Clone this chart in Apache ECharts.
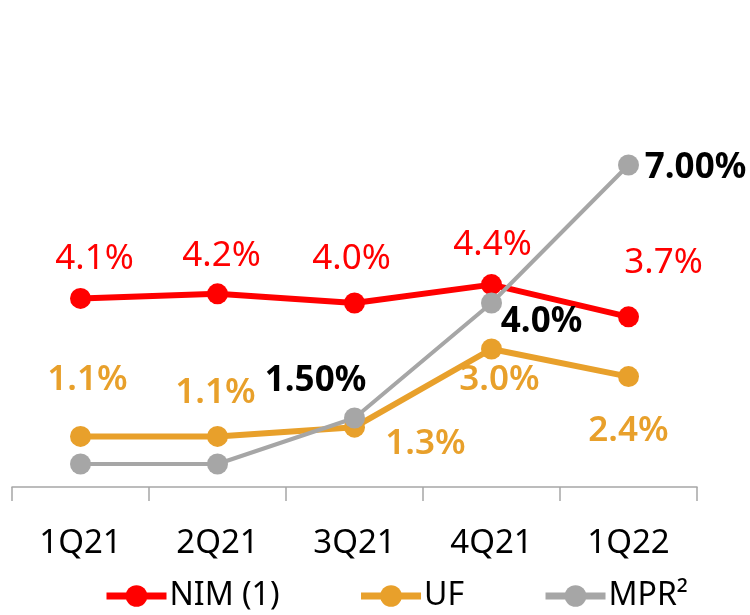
<!DOCTYPE html>
<html>
<head>
<meta charset="utf-8">
<script src="https://cdn.jsdelivr.net/npm/echarts@6/dist/echarts.min.js"></script>
<style>
  html, body { margin: 0; padding: 0; background: #fff; }
  #chart { width: 750px; height: 615px; }
</style>
</head>
<body>
<div id="chart"></div>
<script>
const categories = ['1Q21', '2Q21', '3Q21', '4Q21', '1Q22']
const nimValues = [4.1, 4.2, 4.0, 4.4, 3.7]
const ufValues = [1.1, 1.1, 1.3, 3.0, 2.4]
const mprValues = [0.5, 0.5, 1.5, 4.0, 7.0]
const mprLabels = ['', '', '1.50%', '4.0%', '7.00%']

// label offsets (px) from each point, kept apart from the values
const nimOffsets = [[14, -39], [4, -38], [-3, -44], [1, -40], [35, -54]]
const ufOffsets = [[7, -56], [-2, -43], [71, 17], [8, 31], [0, 54]]
const mprOffsets = [[0, 0], [0, 0], [-39, -37], [50, 19], [67, 3]]

const FONT = 'Noto Sans'
const RED = '#FF0000'
const ORANGE = '#E8A02B'
const GRAY = '#A6A6A6'

const withOffsets = (values, offsets) =>
  values.map((v, i) => ({ value: v, label: { offset: offsets[i] } }))

const chart = echarts.init(document.getElementById('chart'))

const baseLabel = {
  show: true,
  position: 'inside',
  align: 'center',
  verticalAlign: 'middle',
  fontFamily: FONT,
  fontSize: 35,
}

const legendItem = (name, color) => ({
  name,
  itemStyle: { color },
  lineStyle: { color, width: 7 },
})

const option = {
  animation: false,
  textStyle: { fontFamily: FONT },
  grid: { left: 12, right: 53, top: 119, bottom: 128 },
  legend: {
    left: 98,
    top: 575,
    itemWidth: 60,
    itemHeight: 27,
    itemGap: 78,
    textStyle: { fontFamily: FONT, fontSize: 32, color: '#000', padding: [0, 0, 0, -2] },
    data: [legendItem('NIM (1)', RED), legendItem('UF', ORANGE), legendItem('MPR²', GRAY)],
  },
  xAxis: {
    type: 'category',
    data: categories,
    boundaryGap: true,
    axisLine: { lineStyle: { color: '#A6A6A6', width: 1.5 } },
    axisTick: { show: true, length: 14, lineStyle: { color: '#A6A6A6', width: 1.5 } },
    axisLabel: { color: '#000', fontFamily: FONT, fontSize: 33, margin: 40 },
  },
  yAxis: {
    type: 'value',
    min: 0,
    max: 8,
    show: false,
    splitLine: { show: false },
  },
  series: [
    {
      name: 'NIM (1)',
      type: 'line',
      data: withOffsets(nimValues, nimOffsets),
      symbol: 'circle',
      symbolSize: 21,
      lineStyle: { color: RED, width: 6 },
      itemStyle: { color: RED },
      label: { ...baseLabel, color: RED, formatter: (p) => p.value.toFixed(1) + '%' },
    },
    {
      name: 'UF',
      type: 'line',
      data: withOffsets(ufValues, ufOffsets),
      symbol: 'circle',
      symbolSize: 21,
      lineStyle: { color: ORANGE, width: 6 },
      itemStyle: { color: ORANGE },
      label: { ...baseLabel, color: ORANGE, fontWeight: 600, formatter: (p) => p.value.toFixed(1) + '%' },
    },
    {
      name: 'MPR²',
      type: 'line',
      data: withOffsets(mprValues, mprOffsets),
      symbol: 'circle',
      symbolSize: 21,
      lineStyle: { color: GRAY, width: 4 },
      itemStyle: { color: GRAY },
      label: { ...baseLabel, color: '#000', fontWeight: 'bold', formatter: (p) => mprLabels[p.dataIndex] },
    },
  ],
}

chart.setOption(option)
</script>
</body>
</html>
